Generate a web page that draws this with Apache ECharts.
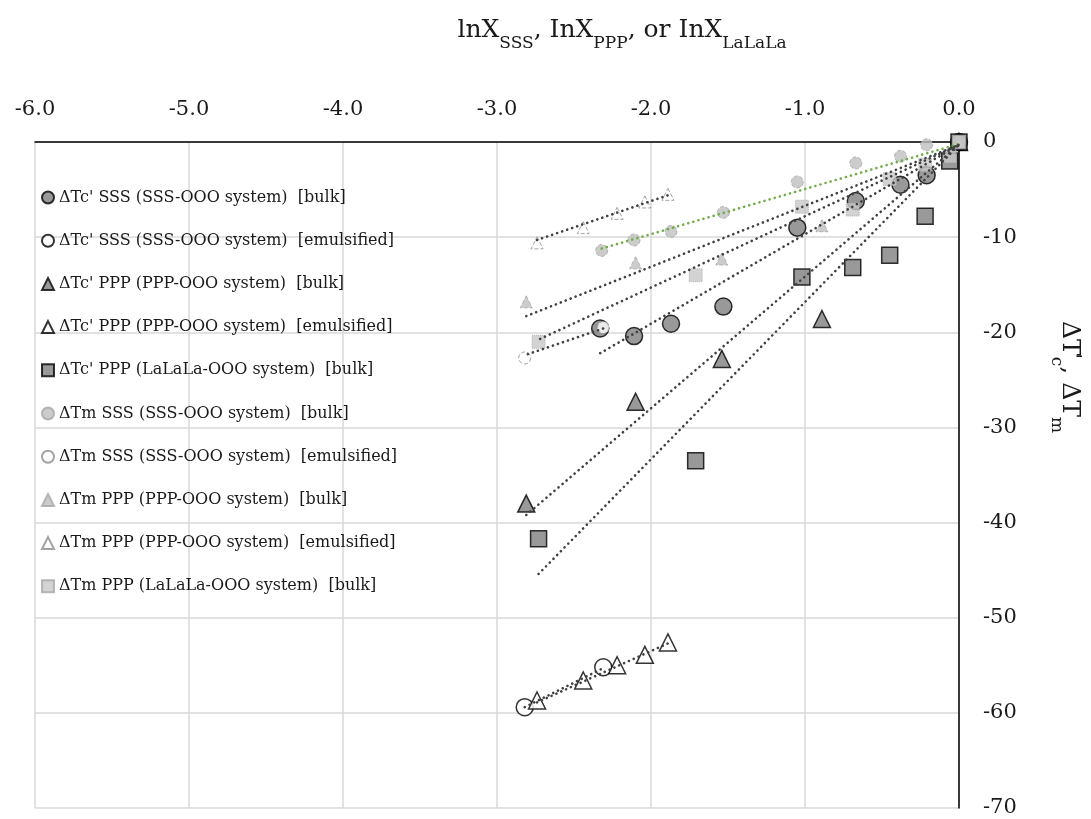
<!DOCTYPE html>
<html>
<head>
<meta charset="utf-8">
<script src="https://cdn.jsdelivr.net/npm/echarts@6/dist/echarts.min.js"></script>
<style>
  html, body { margin: 0; padding: 0; background: #ffffff; }
  #chart { width: 1091px; height: 819px; }
</style>
</head>
<body>
<div id="chart"></div>
<script>
// Axis ticks
const xTicks = [-6, -5, -4, -3, -2, -1, 0];
const yTicks = [0, -10, -20, -30, -40, -50, -60, -70];

// SSS (SSS-OOO system), bulk
const lnX_SSS_bulk = [0, -0.21, -0.38, -0.67, -1.05, -1.53, -1.87, -2.11, -2.33];
const dTc_SSS_bulk = [0, -3.5, -4.5, -6.2, -9.0, -17.3, -19.1, -20.4, -19.6];
const lnX_SSSm_bulk = [0, -0.21, -0.38, -0.67, -1.05, -1.53, -1.87, -2.11, -2.32];
const dTm_SSS_bulk = [0, -0.3, -1.5, -2.2, -4.2, -7.4, -9.4, -10.3, -11.4];

// SSS (SSS-OOO system), emulsified
const lnX_SSS_emul = [-2.82, -2.31];
const dTc_SSS_emul = [-59.4, -55.2];
const dTm_SSS_emul = [-22.7, -19.5];

// PPP (PPP-OOO system), bulk
const lnX_PPP_bulk = [0, -0.89, -1.54, -2.10, -2.81];
const dTc_PPP_bulk = [0, -18.6, -22.8, -27.3, -38.0];
const dTm_PPP_bulk = [0, -8.8, -12.3, -12.7, -16.8];

// PPP (PPP-OOO system), emulsified
const lnX_PPP_emul = [-2.74, -2.44, -2.22, -2.04, -1.89];
const dTc_PPP_emul = [-58.7, -56.6, -55.0, -53.9, -52.6];
const dTm_PPP_emul = [-10.6, -9.0, -7.5, -6.3, -5.5];

// LaLaLa (LaLaLa-OOO system), bulk
const lnX_LLL_bulk = [0, -0.06, -0.22, -0.45, -0.69, -1.02, -1.71, -2.73];
const dTc_LLL_bulk = [0, -2.0, -7.8, -11.9, -13.2, -14.2, -33.5, -41.7];
const dTm_LLL_bulk = [0, -1.5, -2.4, -3.9, -7.1, -6.8, -14.0, -21.0];

// Linear trend lines: [start, end] in data units
const trend_dTc_SSS_bulk = [[-2.33, -22.2], [0, -0.3]];
const trend_dTc_SSS_emul = [[-2.82, -59.4], [-2.31, -55.3]];
const trend_dTc_PPP_bulk = [[-2.81, -39.2], [0, -0.3]];
const trend_dTc_PPP_emul = [[-2.74, -58.9], [-1.89, -52.7]];
const trend_dTc_LLL_bulk = [[-2.73, -45.4], [0, -0.3]];
const trend_dTm_SSS_bulk = [[-2.32, -11.2], [0, -0.2]];
const trend_dTm_SSS_emul = [[-2.80, -22.3], [-2.31, -19.6]];
const trend_dTm_PPP_bulk = [[-2.81, -18.3], [0, -0.3]];
const trend_dTm_PPP_emul = [[-2.74, -10.3], [-1.89, -5.6]];
const trend_dTm_LLL_bulk = [[-2.72, -20.7], [0, -0.3]];

// Legend entries
const names = [
  "ΔTc' SSS (SSS-OOO system)  [bulk]",
  "ΔTc' SSS (SSS-OOO system)  [emulsified]",
  "ΔTc' PPP (PPP-OOO system)  [bulk]",
  "ΔTc' PPP (PPP-OOO system)  [emulsified]",
  "ΔTc' PPP (LaLaLa-OOO system)  [bulk]",
  "ΔTm SSS (SSS-OOO system)  [bulk]",
  "ΔTm SSS (SSS-OOO system)  [emulsified]",
  "ΔTm PPP (PPP-OOO system)  [bulk]",
  "ΔTm PPP (PPP-OOO system)  [emulsified]",
  "ΔTm PPP (LaLaLa-OOO system)  [bulk]"
];

const FONT = 'DejaVu Serif';
const TXT = '#1a1a1a';

const pts = (xs, ys) => xs.map((x, i) => [x, ys[i]]);

const dark = { color: '#7f7f7f', borderColor: '#000000', borderWidth: 1.5 };
const open = { color: '#ffffff', borderColor: '#000000', borderWidth: 1.5 };
const light = { color: '#bfbfbf', borderColor: '#a6a6a6', borderWidth: 1, borderType: 'dashed' };
const lightOpen = { color: '#ffffff', borderColor: '#8c8c8c', borderWidth: 1, borderType: 'dashed' };
const lightSq = { color: '#c8c8c8', borderColor: '#a6a6a6', borderWidth: 1, borderType: 'dotted' };

const markerDefs = [
  [lnX_SSS_bulk, dTc_SSS_bulk, 'circle', 17, dark],
  [lnX_SSS_emul, dTc_SSS_emul, 'circle', 17, open],
  [lnX_PPP_bulk, dTc_PPP_bulk, 'triangle', 17, dark],
  [lnX_PPP_emul, dTc_PPP_emul, 'triangle', 17, open],
  [lnX_LLL_bulk, dTc_LLL_bulk, 'rect', 16, dark],
  [lnX_SSSm_bulk, dTm_SSS_bulk, 'circle', 12, light],
  [lnX_SSS_emul, dTm_SSS_emul, 'circle', 12, lightOpen],
  [lnX_PPP_bulk, dTm_PPP_bulk, 'triangle', 12, light],
  [lnX_PPP_emul, dTm_PPP_emul, 'triangle', 12, lightOpen],
  [lnX_LLL_bulk, dTm_LLL_bulk, 'rect', 13, lightSq]
];

const series = markerDefs.map((d, i) => ({
  type: 'scatter',
  name: names[i],
  data: pts(d[0], d[1]),
  symbol: d[2],
  symbolSize: d[3],
  itemStyle: d[4],
  z: 3 + i,
  silent: true
}));

const dotted = (color) => ({ color: color, width: 2.6, type: [0.1, 5.2], cap: 'round' });
const trends = [
  [trend_dTm_PPP_emul, '#404040'],
  [trend_dTm_SSS_bulk, '#70ad47'],
  [trend_dTm_PPP_bulk, '#404040'],
  [trend_dTm_LLL_bulk, '#404040'],
  [trend_dTm_SSS_emul, '#404040'],
  [trend_dTc_SSS_bulk, '#404040'],
  [trend_dTc_PPP_bulk, '#404040'],
  [trend_dTc_LLL_bulk, '#404040'],
  [trend_dTc_SSS_emul, '#404040'],
  [trend_dTc_PPP_emul, '#404040']
];
trends.forEach((t) => {
  series.push({
    type: 'line',
    data: t[0],
    symbol: 'none',
    lineStyle: dotted(t[1]),
    z: 20,
    silent: true
  });
});

// Rich-text styles for the axis titles (subscripts drop below the baseline)
const titleRich = {
  a: { fontFamily: FONT, fontSize: 25, lineHeight: 30, verticalAlign: 'top', fill: TXT },
  s: { fontFamily: FONT, fontSize: 17, lineHeight: 17, padding: [17, 0, 0, 0], verticalAlign: 'top', fill: TXT },
  p: { fontFamily: FONT, fontSize: 20, lineHeight: 20, width: 1, verticalAlign: 'top', fill: TXT }
};

const chart = echarts.init(document.getElementById('chart'), null, { renderer: 'canvas' });
chart.setOption({
  animation: false,
  backgroundColor: '#ffffff',
  grid: { left: 35, right: 132, top: 142, bottom: 11, containLabel: false },
  xAxis: {
    type: 'value',
    position: 'top',
    min: xTicks[0], max: xTicks[xTicks.length - 1], interval: 1,
    axisLine: { show: true, onZero: false, lineStyle: { color: '#000000', width: 1.5 } },
    axisTick: { show: false },
    axisLabel: {
      margin: 32, verticalAlign: 'middle',
      fontFamily: FONT, fontSize: 21, color: TXT,
      formatter: (v) => v.toFixed(1)
    },
    splitLine: { show: true, lineStyle: { color: '#d9d9d9', width: 1.5 } }
  },
  yAxis: {
    type: 'value',
    position: 'right',
    min: yTicks[yTicks.length - 1], max: yTicks[0], interval: 10,
    axisLine: { show: true, onZero: false, lineStyle: { color: '#000000', width: 1.5 } },
    axisTick: { show: false },
    axisLabel: {
      margin: 24, align: 'left',
      fontFamily: FONT, fontSize: 21, color: TXT
    },
    splitLine: { show: true, lineStyle: { color: '#d9d9d9', width: 1.5 } }
  },
  legend: {
    orient: 'vertical',
    left: 36, top: 182,
    itemWidth: 12, itemHeight: 12,
    itemGap: 22.2,
    selectedMode: false,
    textStyle: { fontFamily: FONT, fontSize: 16, color: TXT, lineHeight: 21 },
    data: names
  },
  graphic: [
    {
      type: 'text', x: 622, y: 33, silent: true,
      style: {
        text: '{a|lnX}{s|SSS}{a|, InX}{s|PPP}{a|, or InX}{s|LaLaLa}',
        align: 'center', verticalAlign: 'middle',
        rich: titleRich
      }
    },
    {
      type: 'text', x: 1067, y: 377, rotation: -Math.PI / 2, silent: true,
      style: {
        text: "{a|ΔT}{p|'}{s|c}{a|, ΔT}{s|m}",
        align: 'center', verticalAlign: 'middle',
        rich: titleRich
      }
    }
  ],
  series: series
});
</script>
</body>
</html>
